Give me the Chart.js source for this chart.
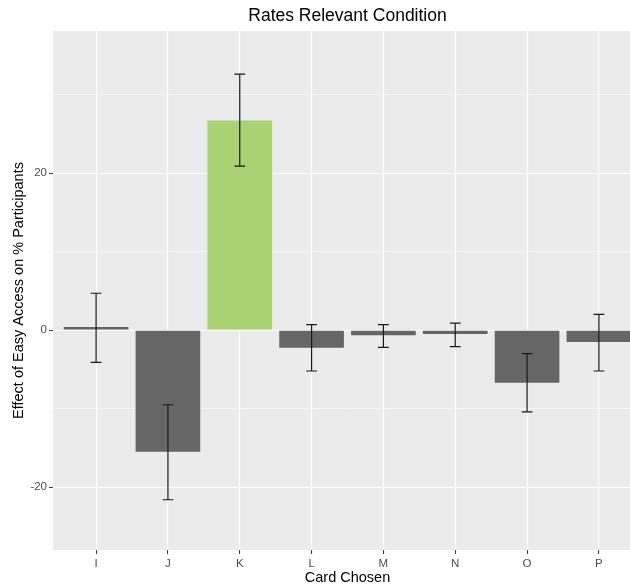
<!DOCTYPE html>
<html>
<head>
<meta charset="utf-8">
<script src="https://cdn.jsdelivr.net/npm/chart.js@4.4.1/dist/chart.umd.min.js"></script>
<style>
  html, body { margin: 0; padding: 0; background: #ffffff; overflow: hidden; }
  #wrap { width: 642px; height: 588px; }
</style>
</head>
<body>
<div id="wrap"><canvas id="c" width="642" height="588"></canvas></div>
<script>
// ---- data ----
const categories = ['I', 'J', 'K', 'L', 'M', 'N', 'O', 'P'];
const effects    = [0.4, -15.5, 26.7, -2.25, -0.65, -0.5, -6.7, -1.5];
const errLow     = [-4.1, -21.6, 20.9, -5.2, -2.2, -2.1, -10.4, -5.2];
const errHigh    = [4.7, -9.5, 32.6, 0.7, 0.7, 0.9, -3.0, 2.0];
const highlight  = ['K'];
const yTicks     = [-20, -10, 0, 10, 20, 30];
const yLabelled  = [-20, 0, 20];

const FONT = "'Liberation Sans', Arial, sans-serif";
const GRAY_BAR = '#666666';
const GREEN_BAR = '#a9d373';

const panelBg = {
  id: 'panelBg',
  beforeDraw(chart) {
    const {ctx, chartArea: a} = chart;
    ctx.save();
    ctx.fillStyle = '#ebebeb';
    ctx.fillRect(a.left, a.top, a.right - a.left, a.bottom - a.top);
    ctx.restore();
  }
};

const errorBars = {
  id: 'errorBars',
  afterDatasetsDraw(chart) {
    const {ctx, scales: {x, y}} = chart;
    ctx.save();
    ctx.strokeStyle = '#1a1a1a';
    ctx.lineWidth = 1.2;
    const half = 0.075;
    categories.forEach((c, i) => {
      const xc = x.getPixelForValue(i + 1);
      const xl = x.getPixelForValue(i + 1 - half);
      const xr = x.getPixelForValue(i + 1 + half);
      const yl = y.getPixelForValue(errLow[i]);
      const yh = y.getPixelForValue(errHigh[i]);
      ctx.beginPath();
      ctx.moveTo(xc, yl); ctx.lineTo(xc, yh);
      ctx.moveTo(xl, yl); ctx.lineTo(xr, yl);
      ctx.moveTo(xl, yh); ctx.lineTo(xr, yh);
      ctx.stroke();
    });
    ctx.restore();
  }
};

new Chart(document.getElementById('c'), {
  type: 'bar',
  data: {
    datasets: [{
      data: categories.map((c, i) => ({x: i + 1, y: effects[i]})),
      backgroundColor: ctx => highlight.includes(categories[ctx.dataIndex]) ? GREEN_BAR : GRAY_BAR,
      borderWidth: 0,
      barPercentage: 0.9,
      categoryPercentage: 1.0
    }]
  },
  plugins: [panelBg, errorBars],
  options: {
    responsive: false,
    animation: false,
    layout: { padding: 0 },
    plugins: {
      legend: { display: false },
      tooltip: { enabled: false },
      title: {
        display: true,
        text: 'Rates Relevant Condition',
        fullSize: false,
        color: '#000000',
        font: { family: FONT, size: 17.5, weight: 'normal', lineHeight: 1.2 },
        padding: { top: 6, bottom: 4 }
      }
    },
    scales: {
      x: {
        type: 'linear',
        min: 0.4,
        max: 8.6,
        offset: false,
        afterBuildTicks: s => { s.ticks = categories.map((c, i) => ({value: i + 1})); },
        afterFit: s => { s.height = 38; },
        border: { display: false },
        grid: { offset: false, color: '#ffffff', lineWidth: 1.1, tickColor: '#333333', tickLength: 4, tickWidth: 1 },
        ticks: {
          color: '#4d4d4d',
          font: { family: FONT, size: 11.5 },
          padding: 3,
          maxRotation: 0,
          autoSkip: false,
          callback: v => categories[v - 1]
        },
        title: {
          display: true,
          text: 'Card Chosen',
          color: '#000000',
          font: { family: FONT, size: 14.5, lineHeight: 1.2 },
          padding: { top: 0, bottom: 1 }
        }
      },
      y: {
        min: -28,
        max: 38.1,
        afterBuildTicks: s => { s.ticks = yTicks.map(v => ({value: v})); },
        afterFit: s => { s.width = 53; },
        border: { display: false },
        grid: {
          color: '#ffffff',
          lineWidth: ctx => yLabelled.includes(ctx.tick && ctx.tick.value) ? 1.1 : 0.55,
          tickColor: ctx => yLabelled.includes(ctx.tick && ctx.tick.value) ? '#333333' : 'rgba(0,0,0,0)',
          tickLength: 4,
          tickWidth: 1
        },
        ticks: {
          color: '#4d4d4d',
          font: { family: FONT, size: 11.5 },
          padding: 2,
          autoSkip: false,
          callback: v => yLabelled.includes(v) ? String(v) : ''
        },
        title: {
          display: true,
          text: 'Effect of Easy Access on % Participants',
          color: '#000000',
          font: { family: FONT, size: 14.5, lineHeight: 1.2 },
          padding: { top: 10, bottom: 0 }
        }
      }
    }
  }
});
</script>
</body>
</html>
